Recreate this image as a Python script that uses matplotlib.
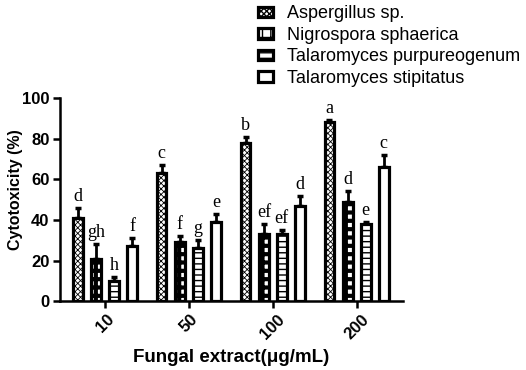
import matplotlib.pyplot as plt
import numpy as np

plt.rcParams['font.family'] = ['Liberation Sans', 'DejaVu Sans']

doses = ['10', '50', '100', '200']
species = ['Aspergillus sp.', 'Nigrospora sphaerica',
           'Talaromyces purpureogenum', 'Talaromyces stipitatus']

# mean cytotoxicity (%) per species, one value per dose
aspergillus = [41, 63, 78, 88]
nigrospora = [21, 29, 33, 49]
purpureogenum = [10, 26, 33, 38]
stipitatus = [27, 39, 47, 66]

# upper error (SD)
aspergillus_err = [5, 4, 3, 1]
nigrospora_err = [7, 3, 5, 5]
purpureogenum_err = [2, 4, 2, 1]
stipitatus_err = [4, 4, 5, 6]

# significance letters
aspergillus_lbl = ['d', 'c', 'b', 'a']
nigrospora_lbl = ['gh', 'f', 'ef', 'd']
purpureogenum_lbl = ['h', 'g', 'ef', 'e']
stipitatus_lbl = ['f', 'e', 'd', 'c']

values = [aspergillus, nigrospora, purpureogenum, stipitatus]
errors = [aspergillus_err, nigrospora_err, purpureogenum_err, stipitatus_err]
letters = [aspergillus_lbl, nigrospora_lbl, purpureogenum_lbl, stipitatus_lbl]
hatches = ['xxxxxx', '++', '---', '']
hatch_lw = [0.6, 3.0, 1.0, 1.0]

fig = plt.figure(figsize=(5.26, 3.70), dpi=100)
ax = fig.add_axes([0.114, 0.186, 0.652, 0.549])

x = np.arange(len(doses))
offsets = [-0.325, -0.107, 0.107, 0.322]
width = 0.115

for i in range(4):
    bars = ax.bar(x + offsets[i], values[i], width, color='white',
                  edgecolor='black', linewidth=2.3, hatch=hatches[i],
                  label=species[i], zorder=2)
    for b in bars:
        try:
            b.set_hatch_linewidth(hatch_lw[i])
        except AttributeError:
            pass
    ax.errorbar(x + offsets[i], values[i],
                yerr=[np.zeros(4), errors[i]], fmt='none', ecolor='black',
                elinewidth=2, capsize=2.5, capthick=2.5, zorder=1)
    for j in range(4):
        ax.text(x[j] + offsets[i], values[i][j] + errors[i][j] + 1.5,
                letters[i][j], ha='center', va='bottom',
                family='Liberation Serif', fontsize=13)

ax.set_xlim(-0.536, 3.55)
ax.set_ylim(0, 100)
ax.set_yticks([0, 20, 40, 60, 80, 100])
ax.set_xticks(x)
ax.set_xticklabels(doses, rotation=45, fontweight='bold', fontsize=12)
for lbl in ax.get_yticklabels():
    lbl.set_fontweight('bold')
    lbl.set_fontsize(12)

ax.spines['top'].set_visible(False)
ax.spines['right'].set_visible(False)
ax.spines['left'].set_linewidth(1.8)
ax.spines['bottom'].set_linewidth(1.8)
ax.tick_params(width=1.8, length=5, pad=2.5)

ax.set_ylabel('Cytotoxicity (%)', fontweight='bold', fontsize=11.5)
ax.yaxis.set_label_coords(-0.108, 0.55)
ax.set_xlabel('Fungal extract(\u03bcg/mL)', fontweight='bold', fontsize=13.5,
              labelpad=5)

fig.legend(loc='upper left', bbox_to_anchor=(0.474, 1.01), frameon=False,
           fontsize=13, handlelength=0.8, handleheight=0.5,
           handletextpad=0.8, labelspacing=0.25, borderaxespad=0.1)

fig.savefig('out.png', dpi=100)
